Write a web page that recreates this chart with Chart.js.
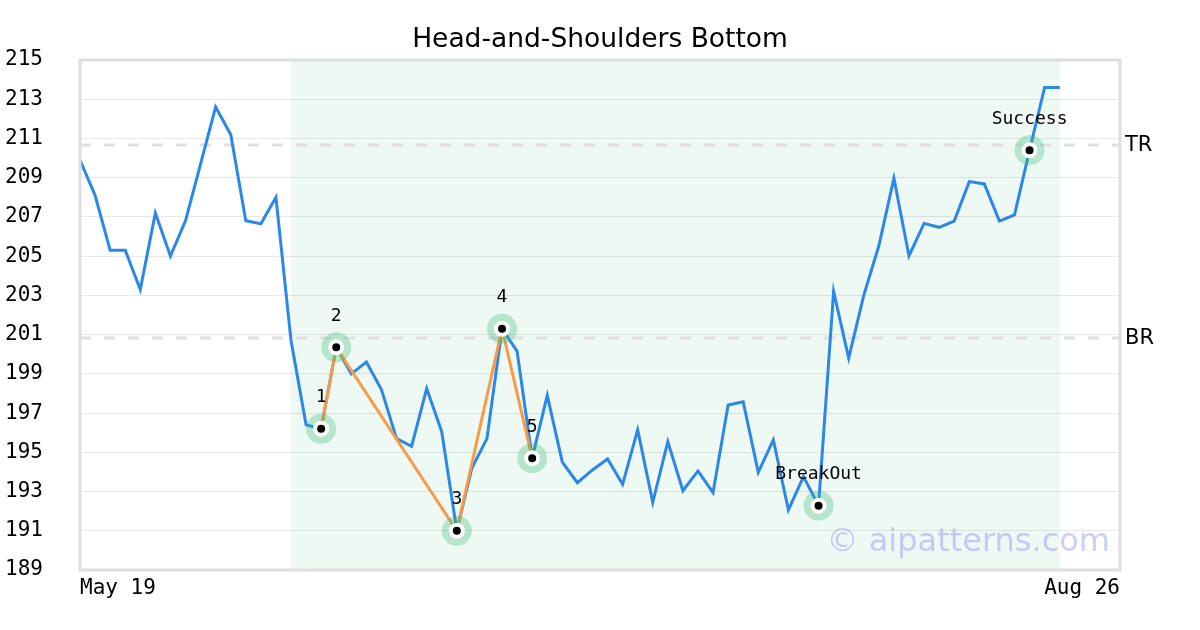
<!DOCTYPE html>
<html>
<head>
<meta charset="utf-8">
<script src="https://cdn.jsdelivr.net/npm/chart.js@4"></script>
<style>
  body { margin: 0; background: #fff; }
  #wrap { width: 1200px; height: 630px; }
</style>
</head>
<body>
<div id="wrap"><canvas id="myChart"></canvas></div>
<script>
// values, one per trading day from May 19
var prices = [
  209.9, 208.1, 205.3, 205.3, 203.3, 207.2, 205.0, 206.8, 209.7, 212.6,
  211.2, 206.8, 206.65, 208.0, 200.7, 196.4, 196.2, 200.35, 199.0, 199.6,
  198.2, 195.7, 195.3, 198.25, 196.05, 191.0, 194.2, 195.7, 201.3, 200.15,
  194.7, 197.9, 194.5, 193.45, 194.1, 194.66, 193.37, 196.14, 192.45, 195.55,
  193.04, 194.05, 192.94, 197.41, 197.58, 193.98, 195.63, 192.06, 193.76, 192.28,
  203.2, 199.8, 203.0, 205.53, 208.97, 205.01, 206.67, 206.47, 206.79, 208.8,
  208.68, 206.79, 207.1, 210.4, 213.6, 213.6
];
var xTickLabels = ['May 19', 'Aug 26'];
var xMax = 69;
var title = 'Head-and-Shoulders Bottom';

var patternIdx = [16, 17, 25, 28, 30];
var patternLabels = ['1', '2', '3', '4', '5'];
var eventIdx = [49, 63];
var eventLabels = ['BreakOut', 'Success'];

var shadeRange = [14, 65];
var levelNames = ['TR', 'BR'];
var levelValues = [210.67, 200.83];

var green = 'rgba(46,184,114,';

var pricePts = prices.map(function (v, i) { return { x: i, y: v }; });
var patternPts = patternIdx.map(function (i) { return { x: i, y: prices[i] }; });
var markIdx = patternIdx.concat(eventIdx);
var markLabels = patternLabels.concat(eventLabels);
var markPts = markIdx.map(function (i) { return { x: i, y: prices[i] }; });

var levelSets = levelValues.map(function (v) {
  return {
    data: [{ x: 0, y: v }, { x: xMax, y: v }],
    borderColor: '#e0e0e0', borderWidth: 3, borderDash: [11, 13],
    pointRadius: 0, order: 4
  };
});

// shaded pattern zone, frame, title, level names, marker labels, watermark
var extras = {
  id: 'extras',
  beforeDatasetsDraw: function (chart) {
    var c = chart.ctx, a = chart.chartArea, xs = chart.scales.x;
    var x0 = xs.getPixelForValue(shadeRange[0]);
    var x1 = xs.getPixelForValue(shadeRange[1]);
    c.save();
    c.fillStyle = green + '0.08)';
    c.fillRect(x0, a.top, x1 - x0, a.bottom - a.top);
    c.restore();
  },
  afterDatasetsDraw: function (chart) {
    var c = chart.ctx, a = chart.chartArea, xs = chart.scales.x, ys = chart.scales.y;
    c.save();
    c.fillStyle = '#000';
    c.textAlign = 'center';
    c.textBaseline = 'middle';
    c.font = '26.5px "DejaVu Sans"';
    c.fillText(title, chart.width / 2, 40);
    c.font = '18px "DejaVu Sans Mono"';
    markPts.forEach(function (p, k) {
      c.fillText(markLabels[k], xs.getPixelForValue(p.x), ys.getPixelForValue(p.y) - 31);
    });
    c.font = '21px "DejaVu Sans"';
    c.textAlign = 'left';
    levelValues.forEach(function (v, k) {
      c.fillText(levelNames[k], a.right + 5, ys.getPixelForValue(v) + 1);
    });
    c.font = '32px "DejaVu Sans"';
    c.textAlign = 'right';
    c.fillStyle = 'rgba(90,90,255,0.3)';
    c.fillText('\u00a9 aipatterns.com', a.right - 10, a.bottom - 27);
    c.strokeStyle = '#dddddd';
    c.lineWidth = 3;
    c.strokeRect(a.left, a.top, a.right - a.left, a.bottom - a.top);
    c.restore();
  }
};

var ctx = document.getElementById('myChart').getContext('2d');
var chart = new Chart(ctx, {
  type: 'line',
  data: {
    datasets: [
      {
        data: markPts, showLine: false, order: 0,
        pointRadius: 6, pointBackgroundColor: '#000',
        pointBorderColor: '#fff', pointBorderWidth: 4
      },
      {
        data: markPts, showLine: false, order: 1,
        pointRadius: 15, pointBackgroundColor: green + '0.3)', pointBorderWidth: 0
      },
      {
        data: patternPts, borderColor: '#f89a48', borderWidth: 3,
        pointRadius: 0, order: 2
      },
      {
        data: pricePts, borderColor: '#2b87e8', borderWidth: 3,
        pointRadius: 0, order: 3
      }
    ].concat(levelSets)
  },
  options: {
    responsive: true,
    maintainAspectRatio: false,
    animation: false,
    layout: { padding: { left: 0, right: 80, top: 60, bottom: 0 } },
    plugins: {
      legend: { display: false },
      tooltip: { enabled: false },
      title: { display: false }
    },
    scales: {
      x: {
        type: 'linear', min: 0, max: xMax,
        grid: { display: false, drawTicks: false },
        border: { display: false },
        afterBuildTicks: function (s) { s.ticks = [{ value: 0 }, { value: xMax }]; },
        afterFit: function (s) { s.height = 60; },
        ticks: {
          align: 'inner', padding: 6, color: '#000', maxRotation: 0,
          font: { family: 'DejaVu Sans Mono', size: 21 },
          callback: function (v) { return v === 0 ? xTickLabels[0] : xTickLabels[1]; }
        }
      },
      y: {
        min: 189, max: 215,
        grid: { color: '#e8e8e8', drawTicks: false },
        border: { display: false },
        afterFit: function (s) { s.width = 80; },
        ticks: {
          stepSize: 2, padding: 37, color: '#000',
          font: { family: 'DejaVu Sans Mono', size: 21 }
        }
      }
    }
  },
  plugins: [extras]
});
</script>
</body>
</html>
